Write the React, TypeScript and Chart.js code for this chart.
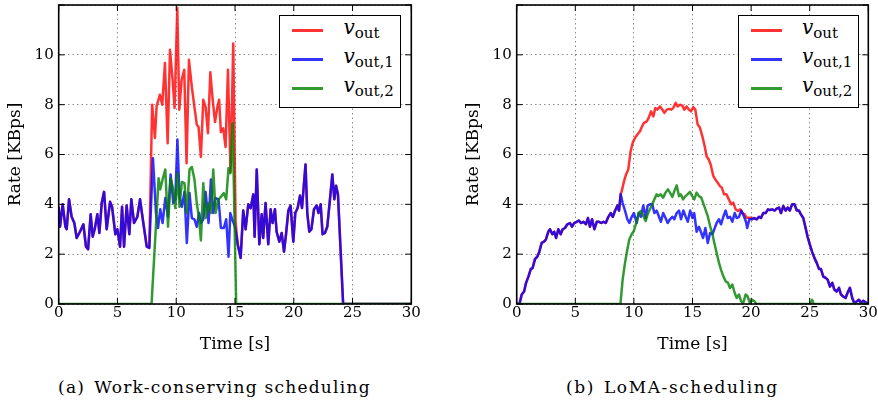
import React, { useEffect, useRef } from 'react';
import { Chart, registerables } from 'chart.js';
Chart.register(...registerables);

// ---------- Data: (a) Work-conserving scheduling ----------
const A_BLUE_T = [0, 0.11, 0.34, 0.57, 0.68, 0.88, 1.1, 1.33, 1.53, 1.81, 2.1, 2.32, 2.5, 2.72, 2.89, 3.06, 3.29, 3.46, 3.66, 3.86, 4.08, 4.37, 4.54, 4.82, 4.99, 5.22, 5.39, 5.56, 5.78, 6.01, 6.18, 6.41, 6.69, 6.92, 7.2, 7.49, 7.71,
  8.02, 8.28, 8.45, 8.64, 8.84, 9.07, 9.3, 9.52, 9.75, 9.92, 10.1, 10.28, 10.48, 10.7, 10.9, 11.13, 11.33, 11.55, 11.75, 11.95, 12.1, 12.3, 12.5, 12.75, 12.95, 13.15, 13.35, 13.6, 13.8, 14.05, 14.25, 14.45, 14.6, 14.8, 15.0,
  15.23, 15.48, 15.7, 15.9, 16.13, 16.33, 16.56, 16.67, 16.85, 17.07, 17.27, 17.4, 17.6, 17.83, 18.03, 18.2, 18.4, 18.54, 18.77, 18.97, 19.17, 19.34, 19.54, 19.73, 19.96, 20.13, 20.33, 20.53, 20.7, 21.0, 21.15, 21.32, 21.5, 21.72, 21.95, 22.1, 22.29, 22.45, 22.65, 22.85, 23.08, 23.28, 23.45, 23.6, 23.76, 24.2, 30];
const A_BLUE_V = [3.9, 3.1, 4.0, 3.1, 3.0, 4.2, 3.5, 3.25, 2.65, 2.9, 3.2, 2.3, 2.2, 3.6, 2.7, 3.0, 3.6, 2.85, 4.05, 4.5, 3.0, 4.1, 3.9, 2.8, 3.0, 2.3, 3.9, 2.3, 3.95, 2.8, 4.2, 3.25, 3.5, 4.2, 3.25, 2.3, 2.25,
  5.85, 3.65, 3.05, 3.8, 3.25, 4.25, 3.5, 5.2, 4.05, 4.2, 6.6, 4.3, 3.9, 4.5, 2.45, 4.45, 3.45, 3.4, 3.1, 3.65, 3.25, 3.4, 4.5, 3.25, 5.0, 3.65, 4.25, 4.2, 3.05, 3.05, 3.4, 1.9, 3.65, 3.35, 3.1,
  2.4, 1.85, 3.75, 3.0, 4.0, 3.85, 4.4, 2.7, 5.4, 2.4, 3.6, 2.65, 4.05, 2.4, 3.8, 3.25, 3.8, 2.9, 2.5, 2.85, 2.1, 2.8, 3.75, 3.95, 2.5, 3.65, 3.85, 4.35, 3.85, 5.6, 3.65, 2.9, 3.0, 3.8, 3.95, 3.65, 4.0, 2.8, 2.85, 3.1, 4.2, 5.2, 4.2, 4.75, 4.4, 0, 0];

const A_RED_T = [7.95, 8.19, 8.33, 8.61, 8.81, 9.04, 9.27, 9.47, 9.69, 9.86, 10.09, 10.26, 10.46, 10.68, 10.88, 11.08, 11.33, 11.55, 11.75, 11.9, 12.1, 12.3, 12.5, 12.7, 12.9, 13.1, 13.3, 13.5, 13.65, 13.8, 14.0, 14.2, 14.4, 14.62, 14.85, 15.05];
const A_RED_V = [8.0, 6.66, 7.93, 8.4, 8.0, 9.67, 6.45, 10.2, 9.0, 7.87, 11.89, 7.8, 9.0, 9.4, 5.65, 9.8, 8.7, 7.9, 7.2, 7.1, 5.9, 8.2, 7.9, 6.85, 9.3, 8.2, 7.3, 7.9, 8.2, 6.9, 7.05, 6.3, 9.4, 5.3, 10.45, 3.3];

const A_GREEN_T = [0, 7.9, 8.5, 8.64, 8.84, 9.07, 9.3, 9.52, 9.75, 9.92, 10.1, 10.28, 10.48, 10.7, 10.9, 11.13, 11.33, 11.55, 11.75, 11.95, 12.1, 12.3, 12.5, 12.75, 12.95, 13.15, 13.35, 13.6, 13.8, 14.05, 14.25, 14.45, 14.6, 14.8, 15.1, 30];
const A_GREEN_V = [0, 0, 5.05, 4.6, 5.0, 5.4, 3.1, 5.05, 4.6, 3.85, 5.25, 3.9, 4.9, 4.85, 3.65, 5.4, 5.5, 5.0, 4.05, 3.4, 2.55, 4.85, 3.45, 4.05, 3.65, 5.4, 3.65, 4.2, 4.3, 4.45, 4.2, 5.45, 5.25, 7.25, 0, 0];

// ---------- Data: (b) LoMA-scheduling ----------
const B_BLUE_T = [0, 0.23, 0.43, 0.63, 0.8, 1.0, 1.2, 1.36, 1.56, 1.76, 1.93, 2.13, 2.33, 2.5, 2.7, 2.84, 3.04, 3.2, 3.36, 3.55, 3.75, 3.92, 4.12, 4.32, 4.55, 4.72, 4.9, 5.12, 5.3, 5.5, 5.7, 5.9, 6.08, 6.25, 6.43, 6.63, 6.83, 7.02, 7.22, 7.4, 7.6, 7.82, 8.02, 8.2, 8.4, 8.6, 8.73, 8.87,
  9.04, 9.24, 9.44, 9.61, 9.81, 10.0, 10.24, 10.4, 10.6, 10.8, 11.0, 11.17, 11.37, 11.57, 11.74, 11.94, 12.14, 12.3, 12.5, 12.7, 12.88, 13.08, 13.28, 13.45, 13.65, 13.85, 14.02, 14.22, 14.42, 14.6, 14.8, 15.0, 15.15, 15.35, 15.55, 15.75, 15.9, 16.1, 16.3, 16.5, 16.7, 16.86, 17.06, 17.26, 17.43, 17.63, 17.83, 18.0, 18.2, 18.4, 18.6, 18.77, 18.97, 19.16, 19.4, 19.56, 19.67, 19.85, 20.05,
  20.25, 20.47, 20.67, 20.84, 21.04, 21.24, 21.44, 21.6, 21.8, 22.0, 22.18, 22.38, 22.55, 22.75, 22.95, 23.12, 23.3, 23.5, 23.7, 23.9, 24.08, 24.25, 24.45, 24.65, 24.82, 25.0, 25.2, 25.4, 25.6, 25.8, 25.96, 26.16, 26.36, 26.53, 26.73, 26.93, 27.1, 27.3, 27.5, 27.67, 27.86, 28.06, 28.23, 28.43, 28.63, 28.8, 29.0, 29.2, 29.37, 29.57, 29.77, 30.0];
const B_BLUE_V = [0, 0, 0.38, 0.5, 0.85, 1.1, 1.4, 1.45, 1.8, 1.9, 2.1, 2.45, 2.5, 2.6, 2.9, 3.0, 2.8, 2.9, 2.65, 3.0, 2.8, 3.0, 3.05, 3.2, 3.25, 3.1, 3.25, 3.3, 3.35, 3.25, 3.3, 3.2, 3.45, 3.1, 3.4, 3.0, 3.3, 3.3, 3.25, 3.3, 3.25, 3.5, 3.65, 3.5, 3.75, 3.95, 3.75, 4.4,
  4.05, 3.75, 3.4, 3.25, 3.5, 3.65, 3.25, 3.65, 3.5, 3.95, 3.45, 3.95, 4.0, 4.0, 3.65, 3.75, 3.5, 3.3, 3.65, 3.45, 3.25, 3.4, 3.5, 3.4, 3.65, 3.75, 3.4, 3.75, 3.5, 3.3, 3.75, 3.45, 3.65, 2.9, 3.1, 2.85, 2.65, 3.05, 2.45, 2.85, 2.8, 3.0, 3.25, 3.4, 3.2, 3.5, 3.75, 3.45, 3.5, 3.3, 3.65, 3.45, 3.5, 3.75, 3.5, 3.3, 3.05, 3.4, 3.4,
  3.45, 3.4, 3.5, 3.45, 3.65, 3.65, 3.8, 3.77, 3.8, 3.75, 3.83, 3.87, 3.65, 3.93, 3.75, 3.87, 3.75, 4.0, 4.0, 3.75, 3.75, 3.6, 3.45, 3.05, 2.7, 2.4, 2.1, 1.85, 1.65, 1.4, 1.4, 1.1, 1.05, 0.98, 0.7, 0.85, 0.58, 0.5, 0.65, 0.38, 0.3, 0.24, 0.45, 0.65, 0.24, 0.04, 0.1, 0.17, 0.04, 0.13, 0.07, 0];

const B_RED_T = [8.96, 9.16, 9.33, 9.52, 9.72, 9.9, 10.1, 10.3, 10.52, 10.7, 10.86, 11.1, 11.26, 11.46, 11.66, 11.83, 12.0, 12.23, 12.43, 12.6, 12.8, 13.0, 13.2, 13.36, 13.56, 13.73, 13.93, 14.13, 14.3, 14.5, 14.7, 14.87, 15.07, 15.24, 15.44, 15.64, 15.84, 16.04, 16.2, 16.38, 16.55, 16.78, 16.95, 17.15, 17.34, 17.5, 17.7, 17.9, 18.1, 18.3, 18.48, 18.68, 18.88, 19.05, 19.25, 19.45, 19.62, 19.82, 20.0];
const B_RED_V = [4.53, 4.93, 5.2, 5.4, 6.13, 6.47, 6.67, 6.8, 6.93, 7.13, 7.27, 7.33, 7.47, 7.73, 7.53, 7.87, 7.8, 7.93, 7.8, 7.67, 7.8, 7.83, 7.8, 7.87, 8.07, 7.93, 8.0, 7.96, 7.8, 7.93, 7.8, 7.73, 7.9, 7.8, 7.2, 7.07, 6.73, 6.33, 5.93, 5.8, 5.6, 5.13, 5.0, 4.87, 4.73, 4.67, 4.4, 4.4, 4.2, 4.0, 4.07, 3.8, 3.73, 3.8, 3.66, 3.6, 3.46, 3.46, 3.46];

const B_GREEN_T = [0, 8.85, 9.04, 9.24, 9.44, 9.61, 9.81, 10.0, 10.24, 10.43, 10.6, 10.8, 11.0, 11.17, 11.37, 11.57, 11.74, 11.94, 12.08, 12.28, 12.5, 12.7, 12.9, 13.08, 13.28, 13.45, 13.65, 13.85, 14.0, 14.2, 14.4, 14.58, 14.78, 14.98, 15.15, 15.35, 15.55, 15.75, 15.9, 16.1, 16.3, 16.5, 16.7, 16.86, 17.06, 17.26, 17.43, 17.63, 17.83, 18.03, 18.2, 18.4, 18.6, 18.77, 18.97, 19.16, 19.33, 19.53, 19.7, 19.9, 20.1, 20.3, 20.47, 25.05, 25.2, 25.35, 30];
const B_GREEN_V = [0, 0, 0.98, 1.65, 2.19, 2.6, 2.8, 2.93, 3.33, 3.66, 3.73, 3.53, 3.33, 3.6, 3.8, 4.0, 4.2, 4.4, 4.33, 4.4, 4.27, 4.47, 4.6, 4.47, 4.3, 4.53, 4.76, 4.33, 4.4, 4.2, 4.33, 4.4, 4.5, 4.33, 4.2, 4.47, 4.33, 4.27, 4.07, 3.8, 3.53, 3.13, 2.8, 2.46, 2.05, 1.65, 1.38, 1.11, 0.91, 0.85, 0.64, 0.78, 0.44, 0.24, 0.38, 0.1, 0.04, 0.38, 0.31, 0.04, 0.17, 0.1, 0, 0, 0.17, 0, 0];

const X_TICKS = [0, 5, 10, 15, 20, 25, 30];
const Y_TICKS = [0, 2, 4, 6, 8, 10, 12];
const SERIES_SUBS = ['out', 'out,1', 'out,2'];
const CAPTIONS = ['(a)', 'Work-conserving scheduling', '(b)', 'LoMA-scheduling'];

// ---------- Styles ----------
const RED = 'rgba(255,0,0,0.8)';
const BLUE = 'rgba(0,0,255,0.8)';
const GREEN = 'rgba(0,128,0,0.8)';
const FONT = 'DejaVu Serif';

function pts(t: number[], v: number[]) {
  return t.map((x, i) => ({ x, y: v[i] }));
}
function combine(baseT: number[], baseV: number[], midT: number[], midV: number[]) {
  const lo = midT[0];
  const hi = midT[midT.length - 1];
  const out: { x: number; y: number }[] = [];
  baseT.forEach((t, i) => { if (t < lo) out.push({ x: t, y: baseV[i] }); });
  midT.forEach((t, i) => out.push({ x: t, y: midV[i] }));
  baseT.forEach((t, i) => { if (t > hi) out.push({ x: t, y: baseV[i] }); });
  return out;
}

const framePlugin = {
  id: 'frame',
  afterDatasetsDraw(chart: any) {
    const { ctx, chartArea, scales } = chart;
    const { left, right, top, bottom } = chartArea;
    ctx.save();
    ctx.strokeStyle = '#000';
    ctx.lineWidth = 1;
    const L = 6;
    ctx.beginPath();
    scales.x.ticks.forEach((tk: any) => {
      const px = scales.x.getPixelForValue(tk.value);
      ctx.moveTo(px, bottom); ctx.lineTo(px, bottom - L);
      ctx.moveTo(px, top); ctx.lineTo(px, top + L);
    });
    scales.y.ticks.forEach((tk: any) => {
      const py = scales.y.getPixelForValue(tk.value);
      ctx.moveTo(left, py); ctx.lineTo(left + L, py);
      ctx.moveTo(right, py); ctx.lineTo(right - L, py);
    });
    ctx.stroke();
    ctx.lineWidth = 1.6;
    ctx.strokeRect(left, top, right - left, bottom - top);
    ctx.restore();
  },
};

function makeConfig(red: any[], blue: any[], green: any[], padRight: number): any {
  const ds = (data: any[], color: string) => ({
    data, borderColor: color, backgroundColor: color, borderWidth: 2.5,
    pointRadius: 0, tension: 0, fill: false, borderJoinStyle: 'round',
  });
  const tickFont = { family: FONT, size: 15 };
  const titleFont = { family: FONT, size: 17 };
  const grid = { color: 'rgba(0,0,0,0.45)', lineWidth: 1, drawTicks: false };
  const border = { display: false, dash: [1.5, 3] };
  return {
    type: 'line',
    data: { datasets: [ds(green, GREEN), ds(blue, BLUE), ds(red, RED)] },
    options: {
      animation: false,
      responsive: false,
      parsing: false,
      layout: { padding: { left: 0, top: 5, right: padRight, bottom: 0 } },
      plugins: { legend: { display: false }, tooltip: { enabled: false } },
      scales: {
        x: {
          type: 'linear', min: X_TICKS[0], max: X_TICKS[X_TICKS.length - 1],
          afterBuildTicks: (s: any) => { s.ticks = X_TICKS.map((value) => ({ value })); },
          ticks: { font: tickFont, color: '#000', padding: 0, maxRotation: 0, autoSkip: false },
          grid, border,
          title: { display: true, text: 'Time [s]', font: titleFont, color: '#000', padding: { top: 0, bottom: 5 } },
          afterFit: (s: any) => { s.height = 56; s.paddingLeft = 0; s.paddingRight = 0; },
        },
        y: {
          type: 'linear', min: Y_TICKS[0], max: Y_TICKS[Y_TICKS.length - 1],
          afterBuildTicks: (s: any) => { s.ticks = Y_TICKS.map((value) => ({ value })); },
          ticks: { font: tickFont, color: '#000', padding: 5, callback: (v: any) => (v === 12 ? '' : String(v)) },
          grid, border,
          title: { display: true, text: 'Rate [KBps]', font: titleFont, color: '#000', padding: { top: 5, bottom: 0 } },
          afterFit: (s: any) => { s.width = 58.7; s.paddingTop = 0; s.paddingBottom = 0; },
        },
      },
    },
    plugins: [framePlugin],
  };
}

function Legend({ left, top }: { left: number; top: number }) {
  const colors = [RED, BLUE, GREEN];
  return (
    <div style={{ position: 'absolute', left, top, width: 121.4, height: 93.3, boxSizing: 'border-box', border: '1.5px solid #000', background: '#fff' }}>
      {SERIES_SUBS.map((sub, i) => {
        const cy = 14.5 + i * 29;
        return (
          <React.Fragment key={sub}>
            <div style={{ position: 'absolute', left: 11.9, top: cy - 1.25, width: 31.3, height: 2.5, background: colors[i] }} />
            <div style={{ position: 'absolute', left: 63.2, top: cy - 14, height: 20, lineHeight: '20px', fontFamily: FONT, fontSize: 20, whiteSpace: 'nowrap', color: '#000' }}>
              <span style={{ fontStyle: 'italic' }}>v</span>
              <span style={{ fontSize: 15, position: 'relative', top: 4 }}>{sub}</span>
            </div>
          </React.Fragment>
        );
      })}
    </div>
  );
}

export default function App() {
  const refA = useRef<HTMLCanvasElement>(null);
  const refB = useRef<HTMLCanvasElement>(null);
  useEffect(() => {
    const a = new Chart(refA.current as HTMLCanvasElement, makeConfig(
      combine(A_BLUE_T, A_BLUE_V, A_RED_T, A_RED_V), pts(A_BLUE_T, A_BLUE_V), pts(A_GREEN_T, A_GREEN_V), 28.7));
    const b = new Chart(refB.current as HTMLCanvasElement, makeConfig(
      combine(B_BLUE_T, B_BLUE_V, B_RED_T, B_RED_V), pts(B_BLUE_T, B_BLUE_V), pts(B_GREEN_T, B_GREEN_V), 9.7));
    return () => { a.destroy(); b.destroy(); };
  }, []);
  const capStyle: React.CSSProperties = { position: 'absolute', top: 377.2, height: 20, lineHeight: '20px', fontFamily: FONT, fontSize: 17, color: '#000', whiteSpace: 'nowrap', textAlign: 'left' };
  return (
    <div style={{ position: 'absolute', left: 0, top: 0, width: 878, height: 404, background: '#fff', overflow: 'hidden' }}>
      <canvas ref={refA} width={440} height={360} style={{ position: 'absolute', left: 0, top: 0, display: 'block' }} />
      <canvas ref={refB} width={420} height={360} style={{ position: 'absolute', left: 458, top: 0, display: 'block' }} />
      <Legend left={279.3} top={15} />
      <Legend left={737.7} top={15} />
      <div style={{ ...capStyle, left: 58, letterSpacing: 1.25 }}><span style={{ marginRight: 9 }}>{CAPTIONS[0]}</span>{CAPTIONS[1]}</div>
      <div style={{ ...capStyle, left: 566, letterSpacing: 1.6 }}><span style={{ marginRight: 9 }}>{CAPTIONS[2]}</span>{CAPTIONS[3]}</div>
    </div>
  );
}
